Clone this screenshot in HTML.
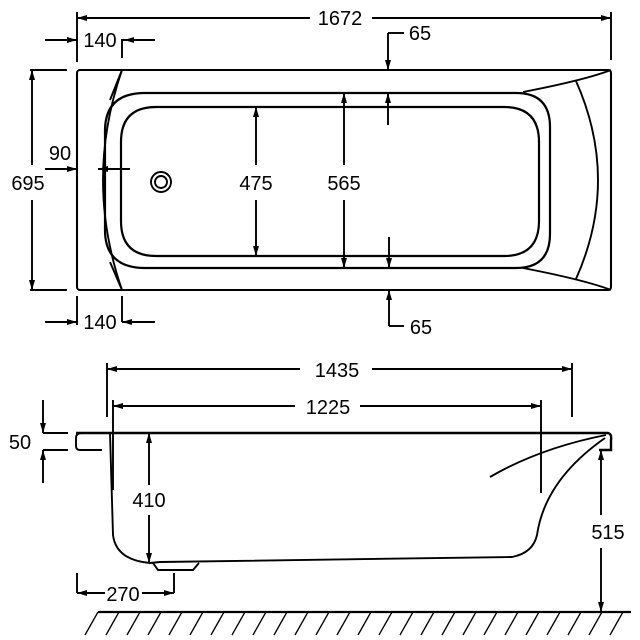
<!DOCTYPE html>
<html><head><meta charset="utf-8"><style>
html,body{margin:0;padding:0;background:#fff;}
svg{display:block;}
text{font-family:"Liberation Sans",sans-serif;font-size:20px;fill:#000;text-anchor:middle;}
</style></head><body>
<svg width="640" height="640" viewBox="0 0 640 640" xmlns="http://www.w3.org/2000/svg">
<defs>
<marker id="a" viewBox="0 0 10 6" refX="10" refY="3" markerWidth="11" markerHeight="6" orient="auto-start-reverse" markerUnits="userSpaceOnUse">
<path d="M0,0 L10,3 L0,6 z" fill="#000"/></marker>
</defs>
<g fill="none" stroke="#000" stroke-width="1.9">
<!-- TOP VIEW -->
<rect x="77" y="70" width="534" height="220" rx="3" stroke-width="2.1"/>
<path d="M145,93 H516 Q550,93 550,127 V234 Q550,268 516,268 H145 Q105,268 105,230 V131 Q105,93 145,93 Z" stroke-width="2.2"/>
<path d="M156,107 H504 Q539,107 539,142 V221 Q539,256 504,256 H156 Q121,256 121,221 V142 Q121,107 156,107 Z" stroke-width="2.2"/>
<path d="M122,70 Q84,180 122,290"/>
<path d="M122,70 L110,100 M122,290 L110,262"/>
<path d="M611,70 Q585,80 523,92 M611,290 Q585,280 523,268"/>
<path d="M576,81 Q620,180 576,279"/>
<circle cx="161" cy="182" r="10"/><circle cx="161" cy="182" r="6"/>
<!-- 1672 -->
<path d="M77,62 V12 M611,12 V60"/>
<line x1="310" y1="18" x2="77" y2="18" marker-end="url(#a)"/>
<line x1="372" y1="18" x2="611" y2="18" marker-end="url(#a)"/>
<!-- 140 top -->
<line x1="45" y1="40" x2="77" y2="40" marker-end="url(#a)"/>
<path d="M122,58 V40 H128"/><line x1="155" y1="40" x2="124" y2="40" marker-end="url(#a)"/>
<!-- 140 bottom -->
<path d="M77,296 V325 M122,296 V322"/>
<line x1="45" y1="322" x2="77" y2="322" marker-end="url(#a)"/>
<line x1="155" y1="322" x2="122" y2="322" marker-end="url(#a)"/>
<!-- 695 -->
<path d="M30,70 H67 M30,290 H67"/>
<line x1="32" y1="165" x2="32" y2="70" marker-end="url(#a)"/>
<line x1="32" y1="200" x2="32" y2="290" marker-end="url(#a)"/>
<!-- 90 -->
<line x1="45" y1="169" x2="77" y2="169" marker-end="url(#a)"/>
<line x1="130" y1="169" x2="98" y2="169" marker-end="url(#a)"/>
<!-- 475 -->
<line x1="256" y1="165" x2="256" y2="107" marker-end="url(#a)"/>
<line x1="256" y1="200" x2="256" y2="256" marker-end="url(#a)"/>
<!-- 565 -->
<line x1="344" y1="165" x2="344" y2="93" marker-end="url(#a)"/>
<line x1="344" y1="200" x2="344" y2="268" marker-end="url(#a)"/>
<!-- 65 top -->
<path d="M404,33 H388"/>
<line x1="388" y1="33" x2="388" y2="70" marker-end="url(#a)"/>
<line x1="388" y1="125" x2="388" y2="93" marker-end="url(#a)"/>
<!-- 65 bottom -->
<line x1="389" y1="237" x2="389" y2="268" marker-end="url(#a)"/>
<path d="M389,326 H404"/>
<line x1="389" y1="326" x2="389" y2="290" marker-end="url(#a)"/>

<!-- SIDE VIEW -->
<path d="M76,433 H608 Q612,434 611,440 V450 H599" stroke-width="2.4"/>
<path d="M102,450 H80 Q76,450 76,446 V438 Q76,433 82,433"/>
<path d="M110,433 L113,535 Q116,560 150,563 L160,562 L512,557 Q533,553 537,535 Q545,480 605,438"/>
<path d="M490,477 Q540,448 606,435"/>
<path d="M153,563 L158,570 L193,570 L199,563"/>
<path d="M107,363 V417 M572,363 V417"/>
<line x1="300" y1="369" x2="107" y2="369" marker-end="url(#a)"/>
<line x1="372" y1="369" x2="572" y2="369" marker-end="url(#a)"/>
<path d="M113,400 V490 M541,400 V493"/>
<line x1="295" y1="406" x2="113" y2="406" marker-end="url(#a)"/>
<line x1="360" y1="406" x2="541" y2="406" marker-end="url(#a)"/>
<line x1="149" y1="485" x2="149" y2="433" marker-end="url(#a)"/>
<line x1="149" y1="515" x2="149" y2="563" marker-end="url(#a)"/>
<path d="M77,573 V593 M174,573 V593"/>
<line x1="105" y1="593" x2="77" y2="593" marker-end="url(#a)"/>
<line x1="142" y1="593" x2="174" y2="593" marker-end="url(#a)"/>
<path d="M43,433 H68 M43,450 H68"/>
<line x1="43" y1="400" x2="43" y2="433" marker-end="url(#a)"/>
<line x1="43" y1="483" x2="43" y2="450" marker-end="url(#a)"/>
<line x1="601" y1="515" x2="601" y2="450" marker-end="url(#a)"/>
<line x1="601" y1="548" x2="601" y2="612" marker-end="url(#a)"/>
<path d="M98,612 H631" stroke-width="2.2"/>
<path d="M98,612 L85,635 M119,612 L106,635 M140,612 L127,635 M161,612 L148,635 M182,612 L169,635 M203,612 L190,635 M224,612 L211,635 M245,612 L232,635 M266,612 L253,635 M287,612 L274,635 M308,612 L295,635 M329,612 L316,635 M350,612 L337,635 M371,612 L358,635 M392,612 L379,635 M413,612 L400,635 M434,612 L421,635 M455,612 L442,635 M476,612 L463,635 M497,612 L484,635 M518,612 L505,635 M539,612 L526,635 M560,612 L547,635 M581,612 L568,635 M602,612 L589,635 M623,612 L610,635" stroke-width="1.3"/>
</g>
<g>
<text x="340" y="25">1672</text>
<text x="100" y="47">140</text>
<text x="100" y="329">140</text>
<text x="420" y="40">65</text>
<text x="421" y="334">65</text>
<text x="28" y="190">695</text>
<text x="60" y="160">90</text>
<text x="256" y="190">475</text>
<text x="344" y="190">565</text>
<text x="337" y="377">1435</text>
<text x="328" y="414">1225</text>
<text x="20" y="449">50</text>
<text x="149" y="507">410</text>
<text x="123" y="601">270</text>
<text x="608" y="539">515</text>
</g>
</svg>
</body></html>
